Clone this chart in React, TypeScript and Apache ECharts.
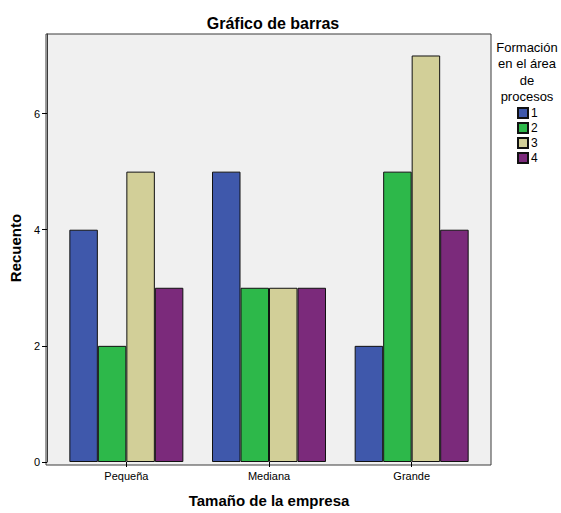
import React, { useEffect, useRef } from "react";
import * as echarts from "echarts";

const categories = ["Pequeña", "Mediana", "Grande"];
const seriesNames = ["1", "2", "3", "4"];
const values1 = [4, 5, 2];
const values2 = [2, 3, 5];
const values3 = [5, 3, 7];
const values4 = [3, 3, 4];
const colors = ["#3f58ab", "#2db84a", "#d2cf98", "#7b2a7b"];
const yTicks = [0, 2, 4, 6];

const FONT = "'Liberation Sans', Arial, sans-serif";

export default function App() {
  const ref = useRef<HTMLDivElement>(null);
  useEffect(() => {
    if (!ref.current) return;
    const chart = echarts.init(ref.current, undefined, { renderer: "svg" });
    const allValues = [values1, values2, values3, values4];
    const option: any = {
      animation: false,
      textStyle: { fontFamily: FONT },
      title: {
        text: "Gráfico de barras",
        left: 268,
        top: 10,
        textAlign: "center",
        textStyle: { fontFamily: FONT, fontSize: 16, fontWeight: "bold", color: "#000" },
      },
      grid: { left: 54, right: 78, top: 34, bottom: 48, containLabel: false },
      legend: {
        orient: "vertical",
        left: 512,
        top: 102,
        itemWidth: 10,
        itemHeight: 10,
        itemGap: 3,
        icon: "rect",
        data: seriesNames,
        textStyle: {
          fontFamily: FONT,
          fontSize: 12,
          lineHeight: 10,
          color: "#000",
          padding: [0, 0, 0, -2],
        },
      },
      graphic: [
        {
          type: "rect",
          z: -10,
          silent: true,
          shape: { x: 46, y: 34, width: 445, height: 431 },
          style: { fill: "#f0f0f0", stroke: "#3a3a3a", lineWidth: 1 },
        },
        {
          type: "text",
          x: 527,
          y: 39,
          style: {
            text: "Formación\nen el área\nde\nprocesos",
            fontFamily: FONT,
            fontSize: 13,
            lineHeight: 16.5,
            textAlign: "center",
            fill: "#000",
          },
        },
      ],
      xAxis: {
        type: "category",
        data: categories,
        name: "Tamaño de la empresa",
        nameLocation: "middle",
        nameGap: 31,
        nameTextStyle: {
          fontFamily: FONT,
          fontSize: 15,
          lineHeight: 15,
          fontWeight: "bold",
          color: "#000",
        },
        axisLine: { show: false },
        axisTick: { show: true, alignWithLabel: true, length: 5, lineStyle: { color: "#000" } },
        axisLabel: { fontFamily: FONT, fontSize: 11, color: "#000", margin: 8 },
        splitLine: { show: false },
      },
      yAxis: {
        type: "value",
        min: 0,
        max: 7.37,
        interval: 2,
        offset: 8,
        name: "Recuento",
        nameLocation: "middle",
        nameGap: 21,
        nameTextStyle: { fontFamily: FONT, fontSize: 15, fontWeight: "bold", color: "#000" },
        axisLine: { show: true, lineStyle: { color: "#3a3a3a", width: 1 } },
        axisTick: { show: true, length: 5, lineStyle: { color: "#000" } },
        axisLabel: {
          fontFamily: FONT,
          fontSize: 11,
          color: "#000",
          margin: 7,
          showMaxLabel: false,
          formatter: (v: number) => (yTicks.includes(v) ? String(v) : ""),
        },
        splitLine: { show: false },
      },
      series: seriesNames.map((n, i) => ({
        type: "bar",
        name: n,
        data: allValues[i],
        barWidth: 28.5,
        barGap: "0%",
        itemStyle: { color: colors[i], borderColor: "#111", borderWidth: 1 },
      })),
    };
    chart.setOption(option);
    return () => chart.dispose();
  }, []);
  return (
    <div
      ref={ref}
      style={{
        position: "absolute",
        left: 0,
        top: 0,
        width: 561,
        height: 513,
        overflow: "hidden",
      }}
    />
  );
}
